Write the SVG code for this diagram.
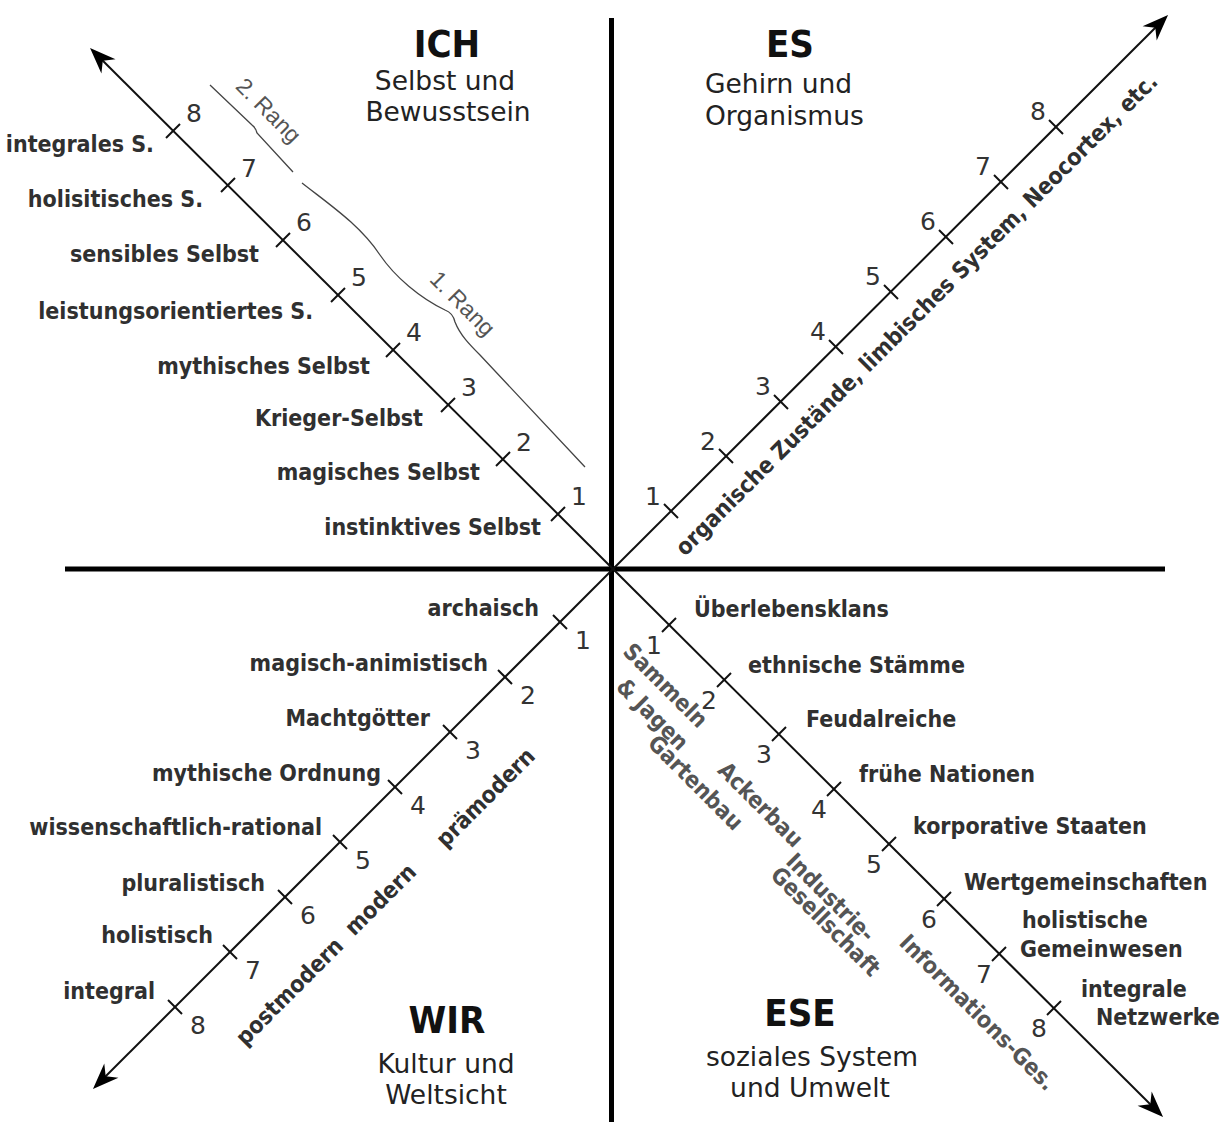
<svg xmlns="http://www.w3.org/2000/svg" width="1225" height="1122" viewBox="0 0 1225 1122">
<defs>
<style>
.ax{stroke:#000;stroke-width:5;fill:none}
.dg{stroke:#111;stroke-width:2;fill:none}
.tk{stroke:#111;stroke-width:2}
.rg{stroke:#444;stroke-width:1.3;fill:none}
.lb{font-family:'DejaVu Sans Condensed','DejaVu Sans',sans-serif;font-stretch:condensed;font-weight:bold;font-size:23px;fill:#303030}
.num{font-family:'DejaVu Sans',sans-serif;font-size:25px;fill:#333;text-anchor:middle}
.hd{font-family:'DejaVu Sans Condensed','DejaVu Sans',sans-serif;font-stretch:condensed;font-weight:bold;font-size:38px;fill:#111;text-anchor:middle}
.sub{font-family:'DejaVu Sans',sans-serif;font-size:26.5px;fill:#222}
.gr{fill:#555}
.rang{font-family:'Liberation Sans',Arial,sans-serif;font-size:23px;fill:#555;text-anchor:middle}
.e{text-anchor:end}
.m{text-anchor:middle}
</style>
<marker id="ah" viewBox="-28 -11 30 22" refX="-6" refY="0" markerWidth="30" markerHeight="22" markerUnits="userSpaceOnUse" orient="auto">
<path d="M0,0 L-26,-10 L-18,0 L-26,10 Z" fill="#000"/>
</marker>
</defs>
<rect width="1225" height="1122" fill="#fff"/>

<g id="connectors">
<line class="ax" x1="611.5" y1="18" x2="611.5" y2="1122"/>
<line class="ax" x1="65" y1="569" x2="1165" y2="569"/>
<line class="dg" x1="613" y1="569" x2="94.3" y2="52.2" marker-end="url(#ah)"/>
<line class="dg" x1="613" y1="569" x2="1163.8" y2="19.2" marker-end="url(#ah)"/>
<line class="dg" x1="613" y1="569" x2="97.2" y2="1084.8" marker-end="url(#ah)"/>
<line class="dg" x1="613" y1="569" x2="1158.8" y2="1112.8" marker-end="url(#ah)"/>
<g id="ticks-ich">
<line class="tk" x1="551" y1="521" x2="565" y2="507"/>
<line class="tk" x1="496" y1="466" x2="510" y2="452"/>
<line class="tk" x1="441" y1="412" x2="455" y2="398"/>
<line class="tk" x1="386" y1="357" x2="400" y2="343"/>
<line class="tk" x1="331" y1="302" x2="345" y2="288"/>
<line class="tk" x1="276" y1="247" x2="290" y2="233"/>
<line class="tk" x1="221" y1="192" x2="235" y2="178"/>
<line class="tk" x1="166" y1="138" x2="180" y2="124"/>
</g>
<g id="ticks-es">
<line class="tk" x1="664" y1="504" x2="678" y2="518"/>
<line class="tk" x1="719" y1="449" x2="733" y2="463"/>
<line class="tk" x1="774" y1="395" x2="788" y2="409"/>
<line class="tk" x1="829" y1="340" x2="843" y2="354"/>
<line class="tk" x1="884" y1="285" x2="898" y2="299"/>
<line class="tk" x1="939" y1="230" x2="953" y2="244"/>
<line class="tk" x1="994" y1="175" x2="1008" y2="189"/>
<line class="tk" x1="1049" y1="120" x2="1063" y2="134"/>
</g>
<g id="ticks-wir">
<line class="tk" x1="553" y1="615" x2="567" y2="629"/>
<line class="tk" x1="498" y1="670" x2="512" y2="684"/>
<line class="tk" x1="443" y1="725" x2="457" y2="739"/>
<line class="tk" x1="388" y1="780" x2="402" y2="794"/>
<line class="tk" x1="333" y1="835" x2="347" y2="849"/>
<line class="tk" x1="278" y1="890" x2="292" y2="904"/>
<line class="tk" x1="223" y1="945" x2="237" y2="959"/>
<line class="tk" x1="168" y1="1000" x2="182" y2="1014"/>
</g>
<g id="ticks-ese">
<line class="tk" x1="662" y1="632" x2="676" y2="618"/>
<line class="tk" x1="717" y1="687" x2="731" y2="673"/>
<line class="tk" x1="772" y1="741" x2="786" y2="727"/>
<line class="tk" x1="827" y1="796" x2="841" y2="782"/>
<line class="tk" x1="882" y1="851" x2="896" y2="837"/>
<line class="tk" x1="937" y1="906" x2="951" y2="892"/>
<line class="tk" x1="992" y1="961" x2="1006" y2="947"/>
<line class="tk" x1="1047" y1="1015" x2="1061" y2="1001"/>
</g>
<g id="rang-lines">
<path class="rg" d="M210,85 L252,125 Q256,128 257,133 L293,172"/>
<path class="rg" d="M302,183 C330,205 360,225 380,255 C395,277 420,298 445,310 Q453,313 455,322 C460,335 470,345 480,355 L585,467"/>
</g>
</g>

<g id="ich">
<text class="hd" x="447" y="57">ICH</text>
<text class="sub m" x="445" y="90">Selbst und</text>
<text class="sub m" x="448" y="121">Bewusstsein</text>
</g>
<g id="es">
<text class="hd" x="790" y="57">ES</text>
<text class="sub" x="705" y="93">Gehirn und</text>
<text class="sub" x="705" y="125">Organismus</text>
</g>
<g id="wir">
<text class="hd" x="447" y="1033">WIR</text>
<text class="sub m" x="446" y="1073">Kultur und</text>
<text class="sub m" x="446" y="1104">Weltsicht</text>
</g>
<g id="ese">
<text class="hd" x="800" y="1026">ESE</text>
<text class="sub m" x="812" y="1066">soziales System</text>
<text class="sub m" x="810" y="1097">und Umwelt</text>
</g>

<g id="ich-levels">
<text class="lb e" x="154" y="152">integrales S.</text>
<text class="lb e" x="203" y="207">holisitisches S.</text>
<text class="lb e" x="259" y="262">sensibles Selbst</text>
<text class="lb e" x="313" y="319">leistungsorientiertes S.</text>
<text class="lb e" x="370" y="374">mythisches Selbst</text>
<text class="lb e" x="423" y="426">Krieger-Selbst</text>
<text class="lb e" x="480" y="480">magisches Selbst</text>
<text class="lb e" x="541" y="535">instinktives Selbst</text>
<text class="num" x="579" y="505">1</text>
<text class="num" x="524" y="451">2</text>
<text class="num" x="469" y="396">3</text>
<text class="num" x="414" y="341">4</text>
<text class="num" x="359" y="286">5</text>
<text class="num" x="304" y="231">6</text>
<text class="num" x="249" y="177">7</text>
<text class="num" x="194" y="122">8</text>
<text class="rang" transform="translate(263,116) rotate(45)">2. Rang</text>
<text class="rang" transform="translate(457,309) rotate(45)">1. Rang</text>
</g>

<g id="es-levels">
<text class="num" x="653" y="505">1</text>
<text class="num" x="708" y="450">2</text>
<text class="num" x="763" y="395">3</text>
<text class="num" x="818" y="340">4</text>
<text class="num" x="873" y="285">5</text>
<text class="num" x="928" y="230">6</text>
<text class="num" x="983" y="175">7</text>
<text class="num" x="1038" y="120">8</text>
<text class="lb m" fill="#333" transform="translate(922,320) rotate(-45)">organische Zustände, limbisches System, Neocortex, etc.</text>
</g>

<g id="wir-levels">
<text class="lb e" x="539" y="616">archaisch</text>
<text class="lb e" x="488" y="671">magisch-animistisch</text>
<text class="lb e" x="430" y="726">Machtgötter</text>
<text class="lb e" x="381" y="781">mythische Ordnung</text>
<text class="lb e" x="322" y="835">wissenschaftlich-rational</text>
<text class="lb e" x="265" y="891">pluralistisch</text>
<text class="lb e" x="213" y="943">holistisch</text>
<text class="lb e" x="155" y="999">integral</text>
<text class="num" x="583" y="649">1</text>
<text class="num" x="528" y="704">2</text>
<text class="num" x="473" y="759">3</text>
<text class="num" x="418" y="814">4</text>
<text class="num" x="363" y="869">5</text>
<text class="num" x="308" y="924">6</text>
<text class="num" x="253" y="979">7</text>
<text class="num" x="198" y="1034">8</text>
<text class="lb m" transform="translate(491,803) rotate(-45)">prämodern</text>
<text class="lb m" transform="translate(386,905) rotate(-45)">modern</text>
<text class="lb m" transform="translate(295,997) rotate(-45)">postmodern</text>
</g>

<g id="ese-levels">
<text class="lb" x="694" y="617">Überlebensklans</text>
<text class="lb" x="748" y="673">ethnische Stämme</text>
<text class="lb" x="806" y="727">Feudalreiche</text>
<text class="lb" x="859" y="782">frühe Nationen</text>
<text class="lb" x="913" y="834">korporative Staaten</text>
<text class="lb" x="964" y="890">Wertgemeinschaften</text>
<text class="lb" x="1022" y="928">holistische</text>
<text class="lb" x="1020" y="957">Gemeinwesen</text>
<text class="lb" x="1081" y="997">integrale</text>
<text class="lb" x="1096" y="1025">Netzwerke</text>
<text class="num" x="654" y="654">1</text>
<text class="num" x="709" y="709">2</text>
<text class="num" x="764" y="763">3</text>
<text class="num" x="819" y="818">4</text>
<text class="num" x="874" y="873">5</text>
<text class="num" x="929" y="928">6</text>
<text class="num" x="984" y="983">7</text>
<text class="num" x="1039" y="1037">8</text>
<text class="lb m gr" transform="translate(660,691) rotate(45)">Sammeln</text>
<text class="lb m gr" transform="translate(647,720) rotate(45)">&amp; Jagen</text>
<text class="lb m gr" transform="translate(690,788) rotate(45)">Gartenbau</text>
<text class="lb m gr" transform="translate(755,810) rotate(45)">Ackerbau</text>
<text class="lb m gr" transform="translate(825,903) rotate(45)">Industrie-</text>
<text class="lb m gr" transform="translate(820,927) rotate(45)">Gesellschaft</text>
<text class="lb m gr" transform="translate(972,1018) rotate(45)">Informations-Ges.</text>
</g>
</svg>
